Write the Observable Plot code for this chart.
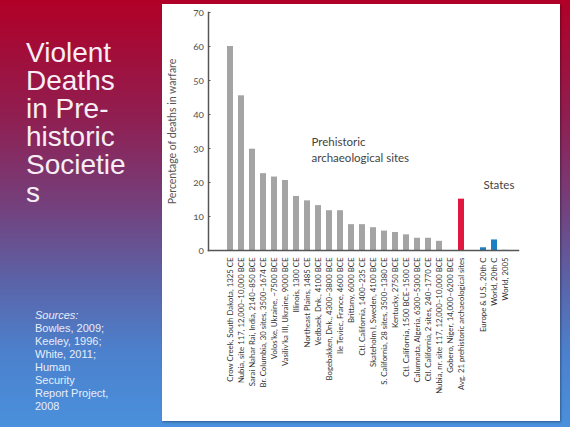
<!DOCTYPE html>
<html>
<head>
<meta charset="utf-8">
<script src="https://cdn.jsdelivr.net/npm/d3@7"></script>
<script src="https://cdn.jsdelivr.net/npm/@observablehq/plot@0.6"></script>
<style>
  html, body { margin: 0; padding: 0; }
  body {
    width: 570px; height: 427px; overflow: hidden; position: relative;
    background: linear-gradient(180deg, #b10027 0%, #8f1f52 28%, #74407c 48%, #5b63a8 66%, #4c80cc 82%, #4a90dc 100%);
    font-family: "Liberation Sans", Arial, sans-serif;
  }
  #title {
    position: absolute; left: 26px; top: 39px;
    color: #f6eef4; font-size: 28px; line-height: 28px;
  }
  #sources {
    position: absolute; left: 35px; top: 309px;
    color: #e8eef8; font-size: 11px; line-height: 13px;
  }
  #panel {
    position: absolute; left: 162px; top: 4px; width: 398px; height: 417px;
    background: #fff; box-shadow: 1px 1px 2px rgba(0,0,0,0.35);
  }
  #panel svg { display: block; }
  .ytick text { font-variant-numeric: oldstyle-nums; }
</style>
</head>
<body>
<div id="title">Violent<br>Deaths<br>in Pre-<br>historic<br>Societie<br>s</div>
<div id="sources"><i>Sources:</i><br>Bowles, 2009;<br>Keeley, 1996;<br>White, 2011;<br>Human<br>Security<br>Report Project,<br>2008</div>
<div id="panel"></div>
<script>
const prehistoricSites = [
  "Crow Creek, South Dakota, 1325 CE",
  "Nubia, site 117, 12,000–10,000 BCE",
  "Sarai Nahar Rai, India, 2140–850 BCE",
  "Br. Columbia, 30 sites, 3500–1674 CE",
  "Volos'ke, Ukraine, ~7500 BCE",
  "Vasiliv'ka III, Ukraine, 9000 BCE",
  "Illinois, 1300 CE",
  "Northeast Plains, 1485 CE",
  "Vedbaek, Dnk., 4100 BCE",
  "Bogebakken, Dnk., 4300–3800 BCE",
  "Ile Teviec, France, 4600 BCE",
  "Brittany, 6000 BCE",
  "Ctl. California, 1400–235 CE",
  "Skateholm I, Sweden, 4100 BCE",
  "S. California, 28 sites, 3500–1380 CE",
  "Kentucky, 2750 BCE",
  "Ctl. California, 1500 BCE–1500 CE",
  "Calumnata, Algeria, 6300–5300 BCE",
  "Ctl. California, 2 sites, 240–1770 CE",
  "Nubia, nr. site 117, 12,000–10,000 BCE",
  "Gobero, Niger, 14,000–6200 BCE"
];
const prehistoricValues = [60, 45.5, 29.8, 22.6, 21.6, 20.6, 15.9, 14.6, 13.2, 11.7, 11.7, 7.6, 7.6, 6.7, 5.7, 5.3, 4.6, 3.6, 3.6, 2.7, 0];
const averageLabel = "Avg. 21 prehistoric archaeological sites";
const averageValue = 15.1;
const stateLabels = ["Europe & U.S., 20th C", "World, 20th C", "World, 2005"];
const stateValues = [0.8, 3.1, 0.03];
const yTicks = [0, 10, 20, 30, 40, 50, 60, 70];
const yLabel = "Percentage of deaths in warfare";
const gapLabel = " ";

const xDomain = [...prehistoricSites, averageLabel, gapLabel, ...stateLabels];
const bars = [
  ...prehistoricSites.map((name, i) => ({name, value: prehistoricValues[i], group: "site"})),
  {name: averageLabel, value: averageValue, group: "avg"},
  ...stateLabels.map((name, i) => ({name, value: stateValues[i], group: "state"}))
];

const chart = Plot.plot({
  width: 398,
  height: 417,
  marginLeft: 46,
  marginRight: 42,
  marginTop: 8,
  marginBottom: 171,
  style: {fontFamily: "Lato, 'Noto Sans', sans-serif", fontSize: "10px", color: "#444", background: "transparent"},
  x: {type: "band", domain: xDomain, paddingInner: 0.5, paddingOuter: 0.75, align: 0.66},
  y: {domain: [0, 70]},
  color: {domain: ["site", "avg", "state"], range: ["#a4a4a4", "#e2163f", "#1b7fc3"]},
  marks: [
    Plot.barY(bars, {x: "name", y: "value", fill: "group"}),
    Plot.frame({anchor: "left", stroke: "#555", strokeWidth: 1.5}),
    Plot.frame({anchor: "bottom", stroke: "#555", strokeWidth: 1.5}),
    Plot.axisY({ticks: yTicks, tickSize: -2.5, tickPadding: 7, label: null, className: "ytick", fontSize: 10, color: "#555"}),
    Plot.axisX({tickRotate: -90, tickSize: 0, tickPadding: 7, label: null, fontSize: 7.8, color: "#333",
      tickFormat: d => d}),
    Plot.text([yLabel], {frameAnchor: "left", rotate: -90, textAnchor: "middle", dx: -36, fontSize: 10.5, fill: "#555"}),
    Plot.text(["Prehistoric\narchaeological sites"], {x: [prehistoricSites[8]], y: [29.8], dx: -7, textAnchor: "start", lineHeight: 1.4, fontSize: 11.5, fill: "#444"}),
    Plot.text(["States"], {x: [stateLabels[0]], y: [19.2], dx: 0, textAnchor: "start", fontSize: 11.5, fill: "#444"})
  ]
});
document.getElementById("panel").appendChild(chart);
</script>
</body>
</html>
